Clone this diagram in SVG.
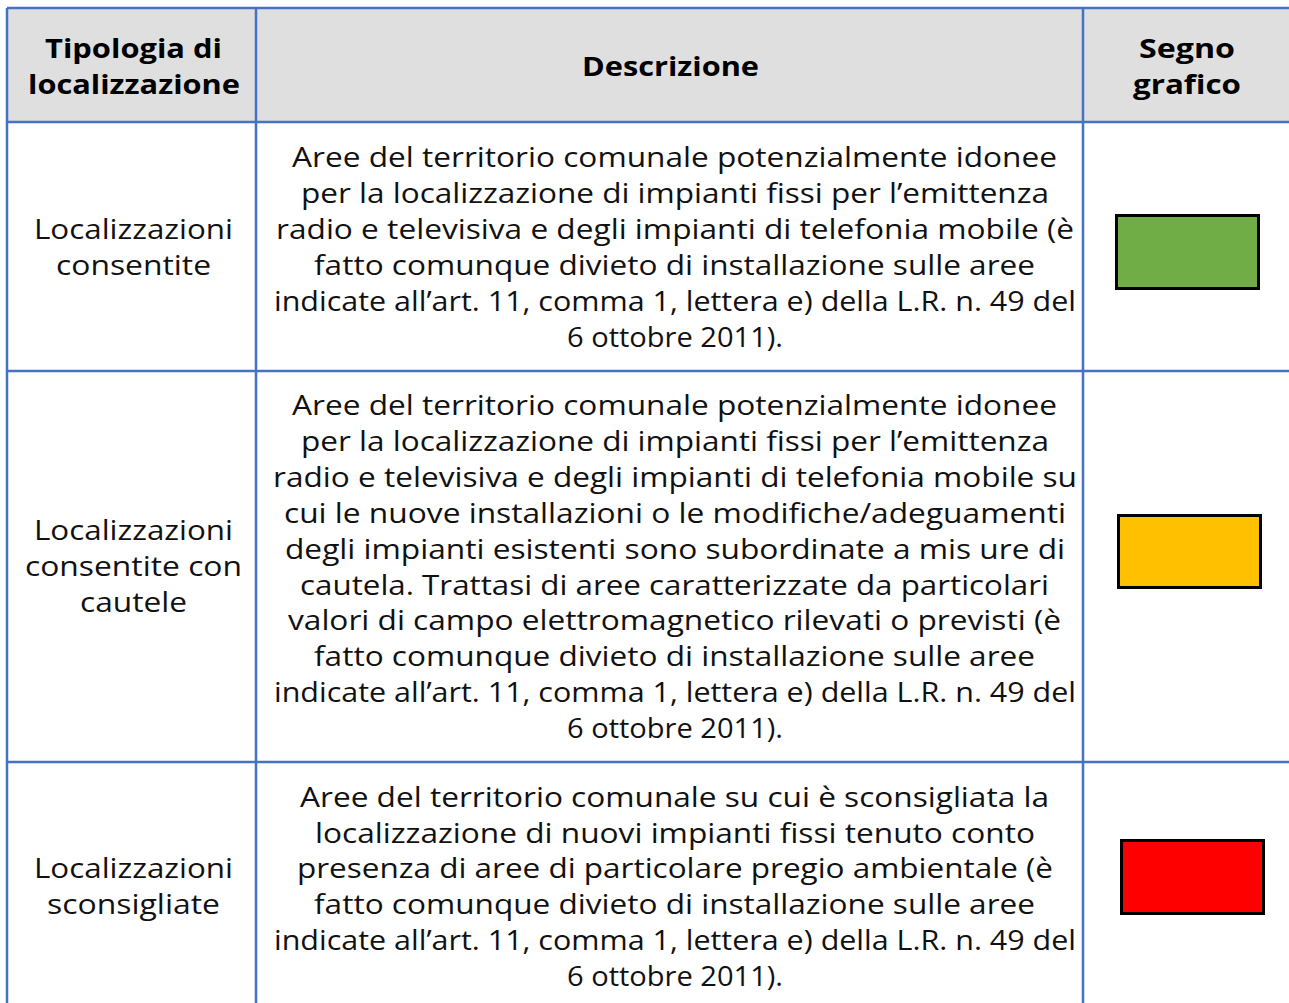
<svg xmlns="http://www.w3.org/2000/svg" width="1289" height="1003" viewBox="0 0 1289 1003">
<style>
.t{font-family:"Open Sans","DejaVu Sans",sans-serif;font-size:27px;fill:#111;text-anchor:middle}
.h{font-family:"Open Sans","DejaVu Sans",sans-serif;font-size:27px;font-weight:bold;fill:#000;text-anchor:middle}
.g{stroke:#4472c4;stroke-width:2.5;fill:none}
.sw{stroke:#000;stroke-width:3}
</style>
<rect x="0" y="0" width="1289" height="1003" fill="#fff"/>
<g id="header">
<rect x="7" y="8" width="1282" height="114" fill="#dfdfdf"/>
<text class="h" x="133.5" y="58" textLength="177" lengthAdjust="spacingAndGlyphs">Tipologia di</text>
<text class="h" x="134" y="94" textLength="212" lengthAdjust="spacingAndGlyphs">localizzazione</text>
<text class="h" x="670.5" y="76" textLength="177" lengthAdjust="spacingAndGlyphs">Descrizione</text>
<text class="h" x="1187" y="58" textLength="96" lengthAdjust="spacingAndGlyphs">Segno</text>
<text class="h" x="1187" y="94" textLength="108" lengthAdjust="spacingAndGlyphs">grafico</text>
</g>
<g id="grid">
<line class="g" x1="7" y1="8" x2="1289" y2="8"/>
<line class="g" x1="7" y1="122" x2="1289" y2="122"/>
<line class="g" x1="7" y1="371" x2="1289" y2="371"/>
<line class="g" x1="7" y1="762" x2="1289" y2="762"/>
<line class="g" x1="7" y1="8" x2="7" y2="1003"/>
<line class="g" x1="256" y1="8" x2="256" y2="1003"/>
<line class="g" x1="1083" y1="8" x2="1083" y2="1003"/>
</g>
<g id="row1">
<text class="t" x="133.5" y="239" textLength="199" lengthAdjust="spacingAndGlyphs">Localizzazioni</text>
<text class="t" x="133.5" y="275" textLength="155" lengthAdjust="spacingAndGlyphs">consentite</text>
<text class="t" x="674.5" y="167" textLength="765" lengthAdjust="spacingAndGlyphs">Aree del territorio comunale potenzialmente idonee</text>
<text class="t" x="675" y="203" textLength="748" lengthAdjust="spacingAndGlyphs">per la localizzazione di impianti fissi per l’emittenza</text>
<text class="t" x="675" y="239" textLength="798" lengthAdjust="spacingAndGlyphs">radio e televisiva e degli impianti di telefonia mobile (è</text>
<text class="t" x="674.5" y="275" textLength="721" lengthAdjust="spacingAndGlyphs">fatto comunque divieto di installazione sulle aree</text>
<text class="t" x="675" y="311" textLength="802" lengthAdjust="spacingAndGlyphs">indicate all’art. 11, comma 1, lettera e) della L.R. n. 49 del</text>
<text class="t" x="675" y="347" textLength="216" lengthAdjust="spacingAndGlyphs">6 ottobre 2011).</text>
<rect class="sw" x="1116.5" y="215.5" width="142" height="73" fill="#70ad47"/>
</g>
<g id="row2">
<text class="t" x="133.5" y="540" textLength="199" lengthAdjust="spacingAndGlyphs">Localizzazioni</text>
<text class="t" x="133.5" y="576" textLength="217" lengthAdjust="spacingAndGlyphs">consentite con</text>
<text class="t" x="133.5" y="612" textLength="107" lengthAdjust="spacingAndGlyphs">cautele</text>
<text class="t" x="674.5" y="415" textLength="765" lengthAdjust="spacingAndGlyphs">Aree del territorio comunale potenzialmente idonee</text>
<text class="t" x="675" y="451" textLength="748" lengthAdjust="spacingAndGlyphs">per la localizzazione di impianti fissi per l’emittenza</text>
<text class="t" x="675" y="487" textLength="804" lengthAdjust="spacingAndGlyphs">radio e televisiva e degli impianti di telefonia mobile su</text>
<text class="t" x="675" y="523" textLength="782" lengthAdjust="spacingAndGlyphs">cui le nuove installazioni o le modifiche/adeguamenti</text>
<text class="t" x="675" y="559" textLength="780" lengthAdjust="spacingAndGlyphs">degli impianti esistenti sono subordinate a mis ure di</text>
<text class="t" x="674.5" y="595" textLength="749" lengthAdjust="spacingAndGlyphs">cautela. Trattasi di aree caratterizzate da particolari</text>
<text class="t" x="674.5" y="630" textLength="773" lengthAdjust="spacingAndGlyphs">valori di campo elettromagnetico rilevati o previsti (è</text>
<text class="t" x="674.5" y="666" textLength="721" lengthAdjust="spacingAndGlyphs">fatto comunque divieto di installazione sulle aree</text>
<text class="t" x="675" y="702" textLength="802" lengthAdjust="spacingAndGlyphs">indicate all’art. 11, comma 1, lettera e) della L.R. n. 49 del</text>
<text class="t" x="675" y="738" textLength="216" lengthAdjust="spacingAndGlyphs">6 ottobre 2011).</text>
<rect class="sw" x="1118.5" y="515.5" width="142" height="72" fill="#ffc000"/>
</g>
<g id="row3">
<text class="t" x="133.5" y="878" textLength="199" lengthAdjust="spacingAndGlyphs">Localizzazioni</text>
<text class="t" x="133.5" y="914" textLength="173" lengthAdjust="spacingAndGlyphs">sconsigliate</text>
<text class="t" x="674.5" y="807" textLength="749" lengthAdjust="spacingAndGlyphs">Aree del territorio comunale su cui è sconsigliata la</text>
<text class="t" x="675" y="843" textLength="720" lengthAdjust="spacingAndGlyphs">localizzazione di nuovi impianti fissi tenuto conto</text>
<text class="t" x="675" y="878" textLength="756" lengthAdjust="spacingAndGlyphs">presenza di aree di particolare pregio ambientale (è</text>
<text class="t" x="674.5" y="914" textLength="721" lengthAdjust="spacingAndGlyphs">fatto comunque divieto di installazione sulle aree</text>
<text class="t" x="675" y="950" textLength="802" lengthAdjust="spacingAndGlyphs">indicate all’art. 11, comma 1, lettera e) della L.R. n. 49 del</text>
<text class="t" x="675" y="986" textLength="216" lengthAdjust="spacingAndGlyphs">6 ottobre 2011).</text>
<rect class="sw" x="1121.5" y="840.5" width="142" height="73" fill="#ff0000"/>
</g>
</svg>
